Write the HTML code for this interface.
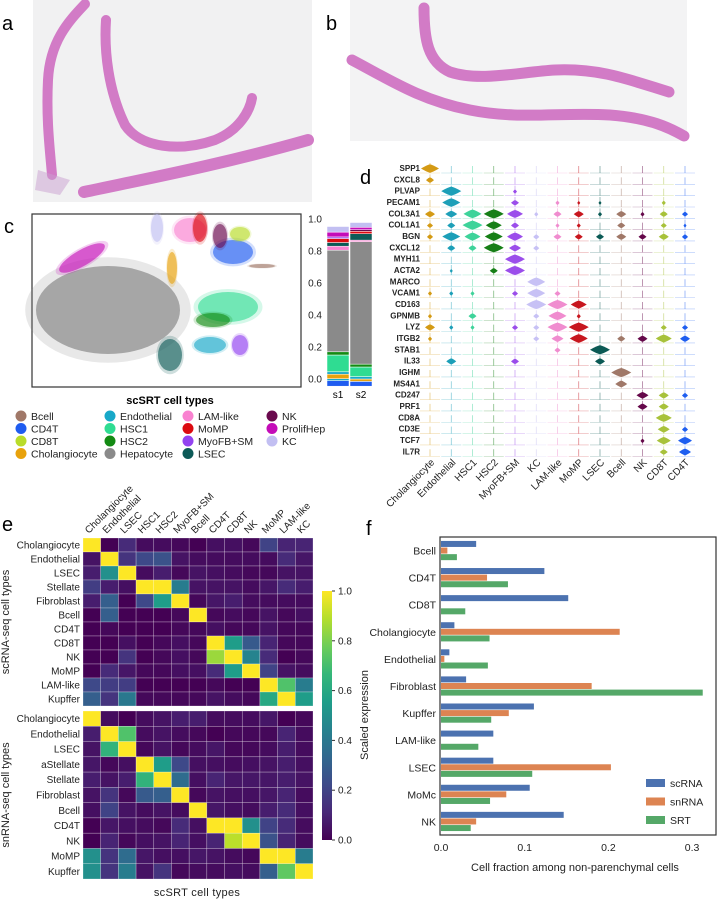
<!DOCTYPE html>
<html><head><meta charset="utf-8">
<style>
html,body{margin:0;padding:0;background:#fff;}
svg{display:block;font-family:"Liberation Sans",Arial,sans-serif;}
</style></head>
<body>
<svg id="fig" width="717" height="900" viewBox="0 0 717 900" xmlns="http://www.w3.org/2000/svg">
<rect x="0" y="0" width="717" height="900" fill="#fff"/>
<text x="2" y="30" font-size="20">a</text>
<text x="326" y="30" font-size="20">b</text>
<text x="4" y="233" font-size="20">c</text>
<text x="360" y="184" font-size="20">d</text>
<text x="2" y="531" font-size="20">e</text>
<text x="366" y="535" font-size="20">f</text>

<g>
<rect x="33" y="0" width="279" height="202" fill="#f1f1f2"/>
<g fill="none" stroke="#d27bc6" stroke-linecap="round">
<path d="M85,4 C70,20 50,40 48,80 C46,120 50,150 52,175" stroke-width="10"/>
<path d="M106,20 C104,50 108,90 125,125 C140,148 180,152 215,140 C240,130 250,110 252,98" stroke-width="10"/>
<path d="M84,192 C140,180 220,165 308,140" stroke-width="12"/>
</g>
<path d="M38,170 L70,180 L60,195 L35,190Z" fill="#c9a0d0" opacity="0.5"/>
</g>
<g>
<rect x="350" y="0" width="337" height="141" fill="#f3f3f4"/>
<g fill="none" stroke="#d27bc6" stroke-linecap="round">
<path d="M424,8 C424,40 428,62 450,72 C480,82 520,72 555,70 C600,68 630,80 669,92" stroke-width="11"/>
<path d="M352,60 C390,80 420,100 470,110 C520,120 560,112 610,115 C650,118 670,128 684,136" stroke-width="11"/>
</g>
</g>

<g id="umap">
<rect x="32" y="214" width="269" height="173" fill="#fff" stroke="#333" stroke-width="1.2"/>
</g>
<g id="stack"></g>
<text x="170" y="404" font-size="11" font-weight="bold" text-anchor="middle">scSRT cell types</text>
<g id="legendc"></g>
<g id="violin"></g>
<g id="heat"></g>
<g id="barf"></g>
</svg>
<script>
const NS="http://www.w3.org/2000/svg";
function mk(parent,tag,attrs,text){const e=document.createElementNS(NS,tag);for(const k in attrs)e.setAttribute(k,attrs[k]);if(text!==undefined)e.textContent=text;parent.appendChild(e);return e;}

/* ===== Panel c data ===== */
const typeNames=["Bcell","CD4T","CD8T","Cholangiocyte","Endothelial","HSC1","HSC2","Hepatocyte","LAM-like","MoMP","MyoFB+SM","LSEC","NK","ProlifHep","KC"];
const typeColors=["#a07868","#1f5cf0","#b9dc2a","#e8a20c","#18a8c8","#2fdc92","#138a13","#8a8a8a","#f982d0","#dc0a10","#9343f0","#0c5a57","#6a0a4e","#c40cb8","#c2bff2"];
const s1Types=["CD4T","Endothelial","Cholangiocyte","Endothelial","HSC1","HSC2","Hepatocyte","LAM-like","LSEC","MoMP","MyoFB+SM","ProlifHep","KC"];
const s1Values=[0.035,0.012,0.028,0.015,0.105,0.02,0.635,0.025,0.023,0.025,0.01,0.03,0.035];
const s2Types=["CD4T","Cholangiocyte","Endothelial","HSC1","HSC2","Hepatocyte","LAM-like","LSEC","MoMP","NK","ProlifHep","KC"];
const s2Values=[0.03,0.015,0.015,0.06,0.018,0.765,0.01,0.04,0.015,0.01,0.015,0.03];
const stackTicks=[0.0,0.2,0.4,0.6,0.8,1.0];

(function(){
 const g=document.getElementById('umap');
 const blobs=[["Hepatocyte",108,310,72,44],["ProlifHep",82,258,26,8,-30],["HSC1",228,307,30,15],["HSC2",213,320,17,7],["LSEC",170,355,12,16],["Endothelial",210,345,16,8],["MyoFB+SM",240,345,8,10],["Cholangiocyte",172,268,5,16],["LAM-like",190,230,16,12],["MoMP",200,228,7,14],["CD4T",233,252,20,12],["CD8T",240,234,10,7],["NK",220,236,7,12],["KC",157,228,6,14],["Bcell",262,266,13,2]];
 blobs.forEach(b=>{const c=typeColors[typeNames.indexOf(b[0])];
  const tr=b[5]?`rotate(${b[5]} ${b[1]} ${b[2]})`:'';
  mk(g,'ellipse',{cx:b[1],cy:b[2],rx:b[3]*1.15,ry:b[4]*1.2,fill:c,opacity:0.2,transform:tr});
  const e=mk(g,'ellipse',{cx:b[1],cy:b[2],rx:b[3],ry:b[4],fill:c,opacity:b[0]==="Hepatocyte"?0.7:0.6,transform:tr});
  
  
 });
})();

(function(){
 const g=document.getElementById('stack');
 const y=v=>379-v*160;
 function col(types,vals,x,w,name){let acc=-0.045;
  types.forEach((t,i)=>{const r=mk(g,'rect',{x:x,y:y(acc+vals[i]),width:w,height:vals[i]*160,fill:typeColors[typeNames.indexOf(t)],stroke:'#fff','stroke-width':0.5});
   
   
   acc+=vals[i];});}
 col(s1Types,s1Values,327,22,'s1');col(s2Types,s2Values,350,22,'s2');
 stackTicks.forEach(t=>{const tx=mk(g,'text',{x:322,y:y(t)+3.5,'font-size':10,'text-anchor':'end',fill:'#222'},t.toFixed(1));
  
  });
 const a=mk(g,'text',{x:338,y:398,'font-size':10,'text-anchor':'middle'},'s1');
 const b=mk(g,'text',{x:361,y:398,'font-size':10,'text-anchor':'middle'},'s2');
})();

(function(){
 const g=document.getElementById('legendc');
 const order=[["Bcell","CD4T","CD8T","Cholangiocyte"],["Endothelial","HSC1","HSC2","Hepatocyte"],["LAM-like","MoMP","MyoFB+SM","LSEC"],["NK","ProlifHep","KC"]];
 const cx=[21,110,188,272];
 order.forEach((c,ci)=>c.forEach((t,ri)=>{const yy=416+ri*12.5;
  const e=mk(g,'g',{});
  
  
  mk(e,'circle',{cx:cx[ci],cy:yy,r:5.5,fill:typeColors[typeNames.indexOf(t)]});
  mk(e,'text',{x:cx[ci]+10,y:yy+4,'font-size':10.5,fill:'#222'},t);
 }));
})();

/* ===== Panel d data ===== */
const genes=["SPP1","CXCL8","PLVAP","PECAM1","COL3A1","COL1A1","BGN","CXCL12","MYH11","ACTA2","MARCO","VCAM1","CD163","GPNMB","LYZ","ITGB2","STAB1","IL33","IGHM","MS4A1","CD247","PRF1","CD8A","CD3E","TCF7","IL7R"];
const violinGroups=["Cholangiocyte","Endothelial","HSC1","HSC2","MyoFB+SM","KC","LAM-like","MoMP","LSEC","Bcell","NK","CD8T","CD4T"];
const violinColors=["#d49a14","#1c9fb8","#3ed39a","#167f16","#9b4deb","#c7c1f5","#f08ccf","#c8161e","#0b5a55","#a07868","#65084a","#a8c23a","#1e5ef0"];
const violinExpr=[
[0.9,0,0,0,0,0,0,0,0,0,0,0,0],
[0.4,0,0,0,0,0,0,0,0,0,0,0,0],
[0,1,0,0,0.2,0,0,0,0,0,0,0,0],
[0,0.9,0,0,0.4,0,0.2,0.15,0.15,0,0,0.2,0],
[0.5,0.6,0.9,1,0.8,0.2,0.4,0.5,0.2,0.5,0.2,0.4,0.3],
[0.3,0.4,1,0.8,0.4,0,0.2,0.2,0,0.4,0,0.3,0.15],
[0.3,0.9,0.8,0.9,0.8,0.3,0.4,0.4,0.4,0.5,0.4,0.5,0.3],
[0,0.4,0.4,1,0.6,0.3,0,0,0,0,0,0,0],
[0,0,0,0,1,0,0,0,0,0,0,0,0],
[0,0.15,0,0.4,1,0,0,0,0,0,0,0,0],
[0,0,0,0,0,0.9,0,0,0,0,0,0,0],
[0.2,0.2,0.2,0,0.3,0.9,0.3,0,0,0,0,0,0],
[0,0,0,0,0,1,1,0.8,0,0,0,0,0],
[0.2,0,0.4,0,0,0.3,0.9,0.2,0,0,0,0,0],
[0.5,0.2,0.2,0,0.3,0.3,1,1,0,0,0,0.3,0.3],
[0.2,0,0,0,0,0.3,0.6,0.9,0,0.4,0.5,0.8,0.5],
[0,0,0,0,0,0,0.3,0,1,0,0,0,0],
[0,0.5,0,0,0.4,0,0,0,0.5,0,0,0,0],
[0,0,0,0,0,0,0,0,0,1,0,0,0],
[0,0,0,0,0,0,0,0,0,0.6,0,0,0],
[0,0,0,0,0,0,0,0,0,0,0.6,0.5,0.3],
[0,0,0,0,0,0,0,0,0,0,0.5,0.5,0],
[0,0,0,0,0,0,0,0,0,0,0,0.8,0],
[0,0,0,0,0,0,0,0,0,0,0,0.6,0.3],
[0,0,0,0,0,0,0,0,0,0,0.2,0.7,0.7],
[0,0,0,0,0,0,0,0,0,0,0,0.4,0.6]];

(function(){
 const g=document.getElementById('violin');
 const rowY=i=>168+i*11.33, colX=j=>430+j*21.25;
 genes.forEach((gn,i)=>{const t=mk(g,'text',{x:420,y:rowY(i)+3,'font-size':8,'font-weight':'bold','text-anchor':'end',fill:'#222'},gn);
  
  
  violinGroups.forEach((cg,j)=>{const x=colX(j),y=rowY(i),v=violinExpr[i][j],c=violinColors[j];
   const base=y+5;
   mk(g,'line',{x1:x-10,x2:x+10,y1:base,y2:base,stroke:c,'stroke-width':0.6,opacity:0.35});
   mk(g,'line',{x1:x,x2:x,y1:base,y2:y-5+(v>0?0:3),stroke:c,'stroke-width':0.7,opacity:0.6});
   if(v>0){const w=v*10,h=1.5+v*3,cy=y+1-v*0.5;
    const p=mk(g,'path',{d:`M${x-w},${cy} Q${x-w*0.3},${cy-h*0.9} ${x},${cy-h} Q${x+w*0.3},${cy-h*0.9} ${x+w},${cy} Q${x+w*0.3},${cy+h*0.9} ${x},${cy+h} Q${x-w*0.3},${cy+h*0.9} ${x-w},${cy}Z`,fill:c});
    
    }
  });});
 violinGroups.forEach((cg,j)=>{const x=colX(j)+5,y=463;
  const t=mk(g,'text',{x:x,y:y,'font-size':10,'text-anchor':'end',transform:`rotate(-45 ${x} ${y})`,fill:'#222'},cg);
  
  });
})();

/* ===== Panel e data ===== */
const heatCols=["Cholangiocyte","Endothelial","LSEC","HSC1","HSC2","MyoFB+SM","Bcell","CD4T","CD8T","NK","MoMP","LAM-like","KC"];
const scRows=["Cholangiocyte","Endothelial","LSEC","Stellate","Fibroblast","Bcell","CD4T","CD8T","NK","MoMP","LAM-like","Kupffer"];
const scVals=[
[1,0.0,0.12,0.03,0.03,0.02,0.0,0.04,0.04,0.02,0.2,0.1,0.1],
[0.05,1,0.15,0.22,0.25,0.05,0.03,0.03,0.03,0.03,0.03,0.12,0.06],
[0.08,0.5,1,0.03,0.08,0.02,0.05,0.04,0.03,0.02,0.02,0.05,0.05],
[0.18,0.08,0.04,1,1,0.42,0.05,0.05,0.05,0.03,0.06,0.12,0.08],
[0.08,0.3,0.0,0.22,0.55,1,0.02,0.06,0.08,0.03,0.03,0.03,0.03],
[0.0,0.3,0.0,0.0,0.0,0.02,1,0.02,0.03,0.02,0.05,0.02,0.04],
[0.0,0.02,0.0,0.0,0.0,0.02,0.02,0.04,0.02,0.02,0.05,0.02,0.02],
[0,0,0.04,0,0.02,0.04,0.02,1,0.55,0.28,0.1,0.02,0.02],
[0,0,0.15,0,0.02,0.04,0.02,0.85,1,0.45,0.12,0,0.02],
[0,0.12,0.06,0.02,0.02,0.04,0.04,0.12,0.55,1,0.2,0.05,0.03],
[0.22,0.18,0.18,0,0,0,0,0.02,0,0,1,0.72,0.42],
[0.3,0.15,0.4,0.02,0.02,0.02,0.02,0.05,0.03,0.02,0.6,1,0.55]];
const snRows=["Cholangiocyte","Endothelial","LSEC","aStellate","Stellate","Fibroblast","Bcell","CD4T","NK","MoMP","Kupffer"];
const snVals=[
[1,0.03,0.0,0.03,0.05,0.08,0.08,0.03,0.03,0.03,0.06,0.0,0.02],
[0.08,1,0.72,0.03,0.05,0.03,0.02,0.0,0.02,0.02,0.02,0.1,0.03],
[0.05,0.65,1,0.02,0.05,0.02,0.03,0.06,0.02,0.02,0.03,0.08,0.03],
[0.06,0.02,0.04,1,0.55,0.22,0.04,0.04,0.03,0.04,0.05,0.08,0.04],
[0.08,0.05,0.08,0.65,1,0.35,0.04,0.1,0.06,0.06,0.06,0.08,0.05],
[0.05,0.15,0.02,0.28,0.3,1,0.02,0.05,0.04,0.04,0.06,0.1,0.03],
[0.04,0.2,0.05,0.03,0.05,0.03,1,0.06,0.04,0.03,0.08,0.12,0.04],
[0.0,0.06,0.04,0.03,0.02,0.12,0.04,1,1,0.5,0.2,0.12,0.03],
[0.0,0.1,0.02,0.04,0.05,0.1,0.04,0.1,0.9,1,0.25,0.1,0.03],
[0.5,0.15,0.35,0.06,0.04,0.04,0.06,0.05,0.03,0.02,1,1,0.42],
[0.5,0.15,0.42,0.05,0.15,0.02,0.03,0.03,0.04,0.03,0.3,0.75,1]];
const cbarTicks=[0.0,0.2,0.4,0.6,0.8,1.0];

const VIR=[[68,1,84],[72,40,120],[62,74,137],[49,104,142],[38,130,142],[31,158,137],[53,183,121],[109,205,89],[180,222,44],[253,231,37]];
function viridis(v){v=Math.max(0,Math.min(1,v));const p=v*9,i=Math.min(8,Math.floor(p)),f=p-i;const a=VIR[i],b=VIR[i+1];
 return `rgb(${Math.round(a[0]+(b[0]-a[0])*f)},${Math.round(a[1]+(b[1]-a[1])*f)},${Math.round(a[2]+(b[2]-a[2])*f)})`;}

(function(){
 const g=document.getElementById('heat');
 const x0=83,cw=(313-83)/13;
 function block(rows,vals,y0,y1,name){const rh=(y1-y0)/rows.length;
  rows.forEach((r,i)=>{const t=mk(g,'text',{x:80,y:y0+rh*(i+0.5)+3.5,'font-size':10,'text-anchor':'end',fill:'#222'},r);
   
   
   heatCols.forEach((c,j)=>{const rc=mk(g,'rect',{x:x0+j*cw,y:y0+i*rh,width:cw,height:rh,fill:viridis(vals[i][j]),stroke:'#fff','stroke-width':0.5,'stroke-opacity':0.5});
    
    });});}
 block(scRows,scVals,538,706,'scrna');
 block(snRows,snVals,711,879,'snrna');
 heatCols.forEach((c,j)=>{const x=x0+(j+0.5)*cw-3,y=534;
  const t=mk(g,'text',{x:x,y:y,'font-size':10,transform:`rotate(-45 ${x} ${y})`,fill:'#222'},c);
  
  });
 let t=mk(g,'text',{x:9,y:622,'font-size':11,'text-anchor':'middle',transform:'rotate(-90 9 622)',fill:'#222'},'scRNA-seq cell types');
 
 t=mk(g,'text',{x:9,y:795,'font-size':11,'text-anchor':'middle',transform:'rotate(-90 9 795)',fill:'#222'},'snRNA-seq cell types');
 
 t=mk(g,'text',{x:197,y:896,'font-size':11,'text-anchor':'middle',fill:'#222','letter-spacing':'0.3'},'scSRT  cell types');
 
 const defs=mk(g,'defs',{});const lg=mk(defs,'linearGradient',{id:'vg',x1:0,y1:1,x2:0,y2:0});
 for(let k=0;k<=9;k++)mk(lg,'stop',{offset:k/9,'stop-color':viridis(k/9)});
 const cb=mk(g,'rect',{x:322,y:591,width:10,height:249,fill:'url(#vg)'});
 
 cbarTicks.forEach(v=>{const yy=840-v*249;mk(g,'line',{x1:332,x2:335,y1:yy,y2:yy,stroke:'#333'});
  const tt=mk(g,'text',{x:338,y:yy+3.5,'font-size':10,fill:'#222'},v.toFixed(1));
  });
 t=mk(g,'text',{x:368,y:715,'font-size':11,'text-anchor':'middle',transform:'rotate(-90 368 715)',fill:'#222'},'Scaled expression');
 
})();

/* ===== Panel f data ===== */
const fCats=["Bcell","CD4T","CD8T","Cholangiocyte","Endothelial","Fibroblast","Kupffer","LAM-like","LSEC","MoMc","NK"];
const scRNA=[0.042,0.1235,0.152,0.016,0.010,0.030,0.111,0.0625,0.0625,0.106,0.1466];
const snRNA=[0.0076,0.055,0,0.2135,0.004,0.180,0.081,0,0.203,0.078,0.042];
const SRT=[0.019,0.080,0.029,0.058,0.056,0.3127,0.060,0.0446,0.109,0.0586,0.0355];
const fTicks=[0.0,0.1,0.2,0.3];
const seriesNames=["scRNA","snRNA","SRT"];
const seriesColors=["#4c72b0","#dd8452","#55a868"];

(function(){
 const g=document.getElementById('barf');
 const L=440,R=716,T=537,B=835;
 const xs=v=>441+v*837;
 const bandH=(B-T)/fCats.length;
 const pa=mk(g,'rect',{x:L,y:T,width:R-L,height:B-T,fill:'#fff',stroke:'#333','stroke-width':1.2});
 
 const series=[scRNA,snRNA,SRT];
 fCats.forEach((c,i)=>{const yc=T+bandH*(i+0.5);
  const t=mk(g,'text',{x:436,y:yc+4,'font-size':10.5,'text-anchor':'end',fill:'#222'},c);
  
  series.forEach((s,k)=>{const h=6.6,y=yc-h*1.5+k*h+0.3;
   const r=mk(g,'rect',{x:xs(0),y:y,width:Math.max(0,xs(s[i])-xs(0)),height:h-0.6,fill:seriesColors[k]});
   
   });});
 fTicks.forEach(v=>{const t=mk(g,'text',{x:xs(v),y:851,'font-size':10.5,'text-anchor':'middle',fill:'#222'},v.toFixed(1));
  });
 let t=mk(g,'text',{x:575,y:871,'font-size':11,'text-anchor':'middle',fill:'#222'},'Cell fraction among non-parenchymal cells');
 
 seriesNames.forEach((n,k)=>{const y=779+k*18.5;const e=mk(g,'g',{});
  
  
  mk(e,'rect',{x:646,y:y,width:19,height:8,fill:seriesColors[k]});
  mk(e,'text',{x:670,y:y+8,'font-size':10.5,fill:'#222'},n);});
})();
</script>
</body></html>
